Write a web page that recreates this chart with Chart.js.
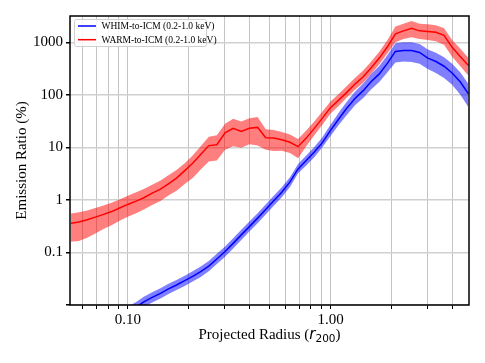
<!DOCTYPE html>
<html>
<head>
<meta charset="utf-8">
<script src="https://cdn.jsdelivr.net/npm/chart.js@4.4.1/dist/chart.umd.min.js"></script>
<style>
  html, body { margin: 0; padding: 0; background: #fff; }
  #wrap { width: 485px; height: 363px; }
</style>
</head>
<body>
<div id="wrap"><canvas id="ratioChart" width="485" height="363"></canvas></div>
<script>
// projected radius bins (r200)
const radius = [0.0525, 0.0575, 0.0631, 0.0692, 0.0759, 0.0832, 0.0912, 0.100, 0.110, 0.120,
                0.132, 0.145, 0.158, 0.174, 0.191, 0.209, 0.229, 0.251, 0.275, 0.302,
                0.331, 0.363, 0.398, 0.437, 0.479, 0.525, 0.575, 0.631, 0.692, 0.759,
                0.832, 0.912, 1.00, 1.10, 1.20, 1.32, 1.45, 1.58, 1.74, 1.91,
                2.09, 2.29, 2.51, 2.75, 3.02, 3.31, 3.63, 3.98, 4.37, 4.79];

// WARM-to-ICM emission ratio (%), median and band
const warmMid = [0.36, 0.38, 0.42, 0.47, 0.53, 0.60, 0.70, 0.82, 0.95, 1.1,
                 1.35, 1.6, 2.0, 2.6, 3.6, 5.0, 7.3, 10.8, 11.2, 19,
                 23, 20, 23, 24, 15.2, 15, 14, 12.5, 10.3, 15,
                 23, 36, 57, 80, 110, 160, 220, 320, 500, 820,
                 1450, 1650, 1850, 1650, 1600, 1550, 1350, 800, 530, 360];
const warmHi = [0.55, 0.58, 0.63, 0.70, 0.78, 0.88, 1.02, 1.2, 1.4, 1.62,
                1.95, 2.35, 2.9, 3.7, 5.0, 7.0, 10.5, 16, 17, 28,
                35, 31, 36, 38, 22, 21.5, 19.5, 17.5, 14.5, 21,
                31, 48, 75, 105, 145, 210, 290, 420, 660, 1100,
                2000, 2250, 2550, 2250, 2200, 2100, 1850, 1100, 750, 500];
const warmLo = [0.16, 0.165, 0.19, 0.23, 0.28, 0.33, 0.40, 0.48, 0.56, 0.66,
                0.80, 0.95, 1.2, 1.5, 2.0, 2.6, 3.8, 5.4, 5.6, 9.0,
                10.5, 9.8, 11.5, 10.8, 9.0, 8.5, 8.6, 7.8, 6.2, 10.5,
                17, 27, 44, 62, 88, 125, 170, 245, 380, 620,
                1000, 1150, 1250, 1150, 1100, 1050, 900, 530, 350, 230];

// WHIM-to-ICM emission ratio (%), median and band
const whimMid = [0.0022, 0.0026, 0.0031, 0.0037, 0.0044, 0.0052, 0.0062, 0.0074, 0.0091, 0.0115,
                 0.014, 0.0166, 0.020, 0.024, 0.029, 0.035, 0.043, 0.055, 0.075, 0.104,
                 0.149, 0.216, 0.31, 0.45, 0.66, 0.96, 1.4, 2.2, 3.9, 5.6,
                 8.2, 12.3, 21, 35, 55, 85, 120, 175, 250, 400,
                 670, 700, 700, 640, 500, 430, 350, 260, 175, 105];
const whimHi = [0.00275, 0.00325, 0.0039, 0.0046, 0.0055, 0.0065, 0.0078, 0.0093, 0.0114, 0.0144,
                0.0175, 0.0208, 0.025, 0.030, 0.036, 0.044, 0.054, 0.069, 0.094, 0.13,
                0.186, 0.27, 0.39, 0.56, 0.82, 1.2, 1.75, 2.7, 4.8, 7.0,
                10.2, 15.5, 27, 46, 73, 115, 165, 245, 355, 570,
                960, 1000, 1000, 930, 730, 630, 520, 390, 265, 160];
const whimLo = [0.00176, 0.0021, 0.0025, 0.0030, 0.0035, 0.0042, 0.0050, 0.0059, 0.0073, 0.0092,
                0.0112, 0.0133, 0.016, 0.0192, 0.023, 0.028, 0.034, 0.044, 0.060, 0.083,
                0.119, 0.173, 0.25, 0.36, 0.53, 0.77, 1.12, 1.76, 3.2, 4.5,
                6.5, 10.0, 16.5, 27, 41, 63, 87, 125, 175, 270,
                410, 430, 420, 390, 310, 260, 210, 155, 100, 58];

// axis ticks
const xTicks = [0.06, 0.07, 0.08, 0.09, 0.1, 0.2, 0.3, 0.4, 0.5, 0.6, 0.7, 0.8, 0.9, 1, 2, 3, 4];
const xTickLabels = { 0.1: '0.10', 1: '1.00' };
const yTicks = [0.01, 0.1, 1, 10, 100, 1000];
const yTickLabels = { 0.1: '0.1', 1: '1', 10: '10', 100: '100', 1000: '1000' };

const SERIF = "'Liberation Serif', 'Times New Roman', serif";

function pts(arr) {
    return radius.map((r, i) => ({ x: r, y: arr[i] }));
}

function band(arr, color, order, fill) {
    return {
        data: pts(arr),
        borderWidth: 0,
        pointRadius: 0,
        backgroundColor: color,
        fill: fill,
        order: order,
        tension: 0
    };
}

// legend drawn inside the plot, plus frame and axis titles
const decorations = {
    id: 'decorations',
    afterDraw(chart) {
        const c = chart.ctx;
        const a = chart.chartArea;
        c.save();

        // frame
        c.strokeStyle = '#000';
        c.lineWidth = 1.5;
        c.strokeRect(a.left, a.top, a.right - a.left, a.bottom - a.top);

        // legend box
        const lx = a.left + 4.5, ly = a.top + 3.5, lw = 132, lh = 27;
        c.fillStyle = 'rgba(255,255,255,0.85)';
        c.strokeStyle = '#d0d0d0';
        c.lineWidth = 1;
        c.beginPath();
        c.roundRect(lx, ly, lw, lh, 2);
        c.fill();
        c.stroke();

        const entries = [
            { text: 'WHIM-to-ICM (0.2-1.0 keV)', color: '#0000ff' },
            { text: 'WARM-to-ICM (0.2-1.0 keV)', color: '#ff0000' }
        ];
        c.font = '9.5px ' + SERIF;
        c.textBaseline = 'middle';
        c.textAlign = 'left';
        entries.forEach((e, i) => {
            const y = ly + 6.5 + i * 13.7;
            c.strokeStyle = e.color;
            c.lineWidth = 1.5;
            c.beginPath();
            c.moveTo(lx + 3.5, y);
            c.lineTo(lx + 21.5, y);
            c.stroke();
            c.fillStyle = '#000';
            c.fillText(e.text, lx + 27, y + 0.5);
        });

        // x title with r_200
        c.fillStyle = '#000';
        c.textBaseline = 'alphabetic';
        const parts = [
            { t: 'Projected Radius (', f: '15px ' + SERIF, dy: 0 },
            { t: 'r', f: "italic 15px 'DejaVu Sans'", dy: 0 },
            { t: '200', f: "10.5px 'DejaVu Sans'", dy: 3 },
            { t: ')', f: '15px ' + SERIF, dy: 0 }
        ];
        let total = 0;
        parts.forEach(p => { c.font = p.f; p.w = c.measureText(p.t).width; total += p.w; });
        let x = (a.left + a.right) / 2 - total / 2;
        const base = 338.5;
        parts.forEach(p => {
            c.font = p.f;
            c.fillText(p.t, x, base + p.dy);
            x += p.w;
        });

        // y title
        c.translate(22, (a.top + a.bottom) / 2);
        c.rotate(-Math.PI / 2);
        c.font = '15px ' + SERIF;
        c.textAlign = 'center';
        c.textBaseline = 'middle';
        c.fillText('Emission Ratio (%)', 0, 0);
        c.restore();
    }
};

function initChart() {
    const ctx = document.getElementById('ratioChart');

    const datasets = [
        band(warmHi, 'rgba(255, 0, 0, 0.5)', 6, '+1'),
        band(warmLo, 'rgba(255, 0, 0, 0.5)', 5, false),
        band(whimHi, 'rgba(0, 0, 255, 0.5)', 4, '+1'),
        band(whimLo, 'rgba(0, 0, 255, 0.5)', 3, false),
        {
            label: 'WARM-to-ICM (0.2-1.0 keV)',
            data: pts(warmMid),
            borderColor: '#ff0000',
            borderWidth: 1.5,
            pointRadius: 0,
            fill: false,
            order: 2
        },
        {
            label: 'WHIM-to-ICM (0.2-1.0 keV)',
            data: pts(whimMid),
            borderColor: '#0000ff',
            borderWidth: 1.5,
            pointRadius: 0,
            fill: false,
            order: 1
        }
    ];

    new Chart(ctx, {
        type: 'line',
        data: { datasets: datasets },
        options: {
            responsive: false,
            animation: false,
            layout: { padding: { left: 0, right: 16, top: 16, bottom: 0 } },
            scales: {
                x: {
                    type: 'logarithmic',
                    min: 0.0519,
                    max: 4.82,
                    afterBuildTicks: s => { s.ticks = xTicks.map(v => ({ value: v })); },
                    afterFit: s => { s.height = 58; },
                    ticks: {
                        autoSkip: false,
                        maxRotation: 0,
                        padding: 2,
                        color: '#000',
                        font: { family: SERIF, size: 15 },
                        callback: v => xTickLabels[v] || ''
                    },
                    grid: { color: '#c4c4c4', lineWidth: 1, tickLength: 4, tickColor: '#000' },
                    border: { display: false }
                },
                y: {
                    type: 'logarithmic',
                    min: 0.01,
                    max: 3162,
                    afterBuildTicks: s => { s.ticks = yTicks.map(v => ({ value: v })); },
                    afterFit: s => { s.width = 70; },
                    ticks: {
                        autoSkip: false,
                        padding: 3,
                        color: '#000',
                        font: { family: SERIF, size: 15 },
                        callback: v => yTickLabels[v] || ''
                    },
                    grid: { color: '#d0d0d0', lineWidth: 1.5, tickLength: 4, tickColor: '#000' },
                    border: { display: false }
                }
            },
            plugins: {
                legend: { display: false },
                tooltip: { enabled: false }
            }
        },
        plugins: [decorations]
    });
}

initChart();
</script>
</body>
</html>
